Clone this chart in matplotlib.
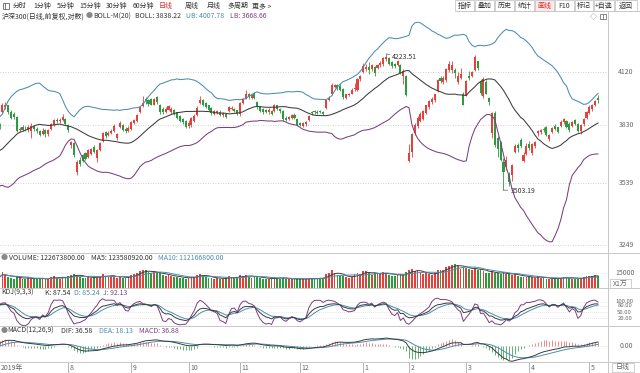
import numpy as np
import pandas as pd
import matplotlib
matplotlib.use("Agg")
import matplotlib.pyplot as plt
from matplotlib.patches import Rectangle

plt.rcParams['font.family'] = ['Noto Sans CJK SC', 'DejaVu Sans']

# ---------------- data (CSI 300 daily, 2019-06-28 .. 2020-05-11) ----------------
# closes before the first visible candle, only used to warm up the indicators
warmup_close = [4060, 4040, 4050, 3960, 3903, 3890, 3913,
                3690, 3720, 3670, 3600, 3730, 3710, 3700, 3770, 3785, 3690,
                3660, 3700, 3680, 3630, 3640, 3660, 3680, 3675, 3640, 3630,
                3630, 3598, 3597, 3564, 3600, 3712, 3686, 3690, 3664,
                3662, 3689, 3739, 3833, 3825, 3826, 3786, 3781, 3814]

open_ = [3830, 3900, 3925, 3935, 3900, 3890, 3872, 3805, 3818, 3812,
         3805, 3800, 3825, 3810, 3798, 3785, 3805, 3785, 3810, 3832,
         3855, 3850, 3858, 3865, 3830, 3728, 3735, 3590, 3650, 3675,
         3685, 3664, 3680, 3718, 3660, 3700, 3745, 3795, 3780, 3790,
         3800, 3765, 3820, 3830, 3810, 3800, 3808, 3840, 3850, 3900,
         3930, 3970, 3962, 3970, 3940, 3980, 3940, 3918, 3902, 3912,
         3900, 3912, 3898, 3880, 3862, 3850, 3825, 3830, 3850, 3885,
         3948, 3962, 3948, 3935, 3920, 3890, 3895, 3902, 3882, 3890,
         3905, 3915, 3915, 3908, 3890, 3950, 3975, 4000, 3975, 3998,
         3955, 3925, 3915, 3912, 3898, 3905, 3905, 3935, 3915, 3905,
         3870, 3860, 3870, 3885, 3860, 3842, 3825, 3835, 3855, 3900,
         3905, 3902, 3905, 3900, 3920, 3962, 3995, 4035, 4045, 4040,
         4025, 3975, 3992, 3998, 4025, 4020, 4080, 4120, 4135, 4150,
         4135, 4150, 4140, 4158, 4165, 4192, 4200, 4175, 4165, 4160,
         4160, 4100, 4100, 3648, 3690, 3790, 3825, 3850, 3862, 3895,
         3925, 3955, 3965, 4015, 4085, 4062, 4075, 4130, 4130, 4130,
         4065, 4085, 4000, 3990, 4100, 4095, 4130, 4180, 4065, 3985,
         4065, 3975, 3790, 3895, 3765, 3735, 3640, 3615, 3580, 3575,
         3690, 3728, 3755, 3648, 3682, 3730, 3685, 3720, 3790, 3795,
         3812, 3820, 3760, 3795, 3828, 3818, 3825, 3845, 3850, 3838,
         3825, 3855, 3838, 3800, 3835, 3870, 3895, 3915, 3935, 3978]

high_ = [3842, 3950, 3955, 3940, 3910, 3898, 3880, 3822, 3830, 3825,
         3830, 3840, 3832, 3818, 3805, 3815, 3812, 3810, 3842, 3862,
         3866, 3868, 3888, 3868, 3838, 3750, 3740, 3652, 3664, 3680,
         3690, 3705, 3712, 3725, 3705, 3742, 3795, 3800, 3798, 3810,
         3835, 3790, 3850, 3838, 3818, 3825, 3850, 3862, 3888, 3932,
         3985, 3980, 3968, 3975, 3978, 3985, 3945, 3925, 3925, 3940,
         3928, 3918, 3902, 3885, 3868, 3856, 3855, 3875, 3888, 3930,
         3985, 3968, 3955, 3940, 3925, 3912, 3912, 3908, 3900, 3896,
         3930, 3930, 3920, 3912, 3955, 3975, 4020, 4005, 3998, 4010,
         3958, 3930, 3920, 3918, 3920, 3912, 3945, 3940, 3920, 3910,
         3878, 3880, 3888, 3892, 3862, 3848, 3845, 3850, 3885, 3905,
         3910, 3908, 3910, 3905, 3968, 3985, 4060, 4055, 4052, 4050,
         4030, 4000, 4005, 4028, 4060, 4085, 4105, 4172, 4165, 4175,
         4165, 4155, 4165, 4180, 4205, 4223.51, 4205, 4182, 4172, 4190,
         4165, 4135, 4105, 3730, 3790, 3840, 3880, 3898, 3910, 3940,
         3965, 3980, 4000, 4080, 4095, 4095, 4140, 4180, 4185, 4140,
         4120, 4140, 4010, 4075, 4125, 4125, 4215, 4185, 4080, 4090,
         4075, 3980, 3900, 3905, 3775, 3745, 3660, 3670, 3590, 3630,
         3730, 3735, 3765, 3690, 3735, 3745, 3735, 3748, 3805, 3812,
         3818, 3825, 3785, 3820, 3835, 3822, 3855, 3868, 3855, 3845,
         3850, 3862, 3842, 3835, 3870, 3905, 3935, 3945, 3965, 3990]

low_ = [3812, 3895, 3915, 3890, 3865, 3860, 3795, 3795, 3800, 3800,
        3795, 3765, 3800, 3790, 3775, 3780, 3770, 3772, 3805, 3828,
        3842, 3840, 3852, 3832, 3796, 3712, 3668, 3575, 3619, 3640,
        3650, 3660, 3675, 3685, 3640, 3695, 3740, 3765, 3772, 3782,
        3795, 3755, 3815, 3798, 3790, 3795, 3805, 3835, 3846, 3895,
        3925, 3945, 3930, 3935, 3935, 3945, 3890, 3890, 3895, 3908,
        3890, 3882, 3862, 3845, 3838, 3814, 3815, 3822, 3845, 3880,
        3945, 3932, 3920, 3905, 3885, 3882, 3888, 3880, 3875, 3868,
        3900, 3910, 3900, 3885, 3880, 3945, 3970, 3972, 3968, 3970,
        3918, 3900, 3890, 3895, 3890, 3882, 3900, 3908, 3895, 3852,
        3850, 3855, 3865, 3862, 3825, 3825, 3818, 3828, 3850, 3885,
        3890, 3888, 3892, 3882, 3915, 3958, 3990, 4028, 4020, 4015,
        3972, 3968, 3985, 3995, 4015, 4015, 4070, 4115, 4125, 4110,
        4125, 4100, 4135, 4150, 4155, 4180, 4158, 4145, 4145, 4155,
        4108, 4050, 3985, 3640, 3665, 3780, 3815, 3845, 3855, 3890,
        3918, 3945, 3955, 4010, 4060, 4055, 4065, 4120, 4115, 4085,
        4055, 4080, 3935, 3985, 4075, 4090, 4125, 4130, 3990, 3975,
        3995, 3940, 3765, 3715, 3665, 3645, 3503.19, 3600, 3525, 3545,
        3685, 3690, 3712, 3640, 3675, 3700, 3675, 3710, 3775, 3785,
        3795, 3775, 3745, 3790, 3802, 3788, 3818, 3838, 3815, 3795,
        3818, 3830, 3795, 3785, 3828, 3865, 3890, 3905, 3930, 3950]

close_ = [3825, 3937, 3940, 3900, 3870, 3872, 3800, 3812, 3805, 3808,
          3818, 3825, 3810, 3800, 3780, 3800, 3782, 3805, 3835, 3858,
          3850, 3858, 3872, 3838, 3805, 3742, 3675, 3640, 3630, 3645,
          3655, 3700, 3708, 3690, 3700, 3735, 3790, 3775, 3788, 3800,
          3825, 3782, 3842, 3805, 3798, 3815, 3845, 3855, 3882, 3925,
          3948, 3958, 3945, 3940, 3972, 3952, 3900, 3898, 3915, 3932,
          3915, 3888, 3870, 3850, 3845, 3818, 3843, 3870, 3880, 3920,
          3965, 3940, 3925, 3912, 3895, 3905, 3905, 3885, 3895, 3875,
          3925, 3922, 3905, 3890, 3950, 3968, 4000, 3980, 3990, 3978,
          3925, 3905, 3898, 3902, 3912, 3888, 3940, 3915, 3905, 3860,
          3858, 3875, 3882, 3868, 3830, 3832, 3840, 3845, 3878, 3892,
          3898, 3895, 3898, 3888, 3962, 3978, 4045, 4045, 4030, 4022,
          3980, 3995, 3998, 4022, 4028, 4080, 4098, 4152, 4150, 4130,
          4160, 4112, 4160, 4170, 4200, 4206, 4165, 4152, 4155, 4182,
          4115, 4128, 3990, 3688, 3785, 3830, 3870, 3890, 3905, 3935,
          3960, 3972, 3995, 4075, 4068, 4088, 4135, 4165, 4160, 4112,
          4095, 4110, 3940, 4070, 4085, 4120, 4206, 4140, 4005, 4082,
          4000, 3952, 3895, 3727, 3705, 3650, 3590, 3653, 3540, 3625,
          3722, 3710, 3720, 3678, 3720, 3712, 3730, 3740, 3800, 3805,
          3802, 3780, 3778, 3815, 3810, 3795, 3845, 3862, 3822, 3805,
          3845, 3835, 3800, 3830, 3865, 3900, 3925, 3940, 3958, 3962]

# volume in units of 10,000 shares (x1万)
volume_wan = [11000,
              16000, 13000, 11000, 10000, 9500, 12500, 10000, 9000, 9000, 10500,
              9500, 9000, 8800, 9500, 10000, 8800, 9000, 11000, 12000, 10500,
              9500, 10500, 11000,
              12000, 13500, 14500, 13000, 11000, 10500, 10000, 12000, 10500, 11000,
              10000, 11500, 14500, 12500, 11500, 12000, 11500, 10500, 11500, 10500,
              10000, 11000,
              13500, 14500, 15500, 17000, 19000, 18000, 16500, 15000, 16000, 16000,
              15500, 13000, 12500, 13000, 12000, 11500, 11000, 10500, 10000, 9500,
              10500, 11000, 11500, 13500, 14500, 12500, 11000, 10000, 10500, 9500,
              10000, 9500, 9000, 10000, 12000, 11000, 10000, 10000,
              13000, 12500, 13500, 11500, 10500, 11000, 12500, 10000, 9500, 9000,
              9000, 9500, 11000, 10500, 9500, 10000, 9500, 9000, 8500, 8500, 9500,
              9500, 9000, 8500, 9500, 10000, 9500, 9500, 10000, 10000, 14000,
              15000, 18500, 15000, 13000, 12500, 12000, 11000, 10000, 11500, 14000,
              15500, 14500,
              17000, 17500, 15000, 13500, 15000, 14500, 14000, 16000, 15500, 13500,
              12500, 12000, 13500, 14500, 13000, 16500,
              18500, 20000, 17000, 17500, 15500, 14500, 15000, 14000, 13500, 15000,
              18500, 19000, 18500, 21500, 23000, 24000, 25000, 22500, 20000, 21500,
              21000, 20000, 18000, 21000, 18000, 19500, 17500, 15500, 15000, 17000,
              15500, 15000, 14000, 16000, 14500, 14000, 13000, 14500, 12500, 11500,
              11000, 11000,
              11500, 11000, 10000, 12000, 10500, 10000, 9500, 8500, 9500, 10500,
              9000, 10500, 11000, 10500, 10000, 9500, 9000, 9000, 10000, 11500,
              12500,
              11800, 12200, 12823, 12267]

month_labels = ['8', '9', '10', '11', '12', '1', '2', '3', '4', '5']
month_start_idx = [24, 46, 66, 84, 105, 127, 143, 163, 185, 206]
year_label = '2019年'
price_ticks = [3249, 3539, 3830, 4120]
kdj_ticks = [100, 80, 50, 20]
vol_tick = 15000

main_title = '沪深300(日线,前复权,对数)'
boll_texts = ['BOLL-M(20)', 'BOLL: 3838.22', 'UB: 4007.78', 'LB: 3668.66']
vol_texts = ['VOLUME: 122673800.00', 'MA5: 123580920.00', 'MA10: 112166800.00']
kdj_texts = ['KDJ(9,3,3)', 'K: 87.54', 'D: 85.24', 'J: 92.13']
macd_texts = ['MACD(12,26,9)', 'DIF: 36.58', 'DEA: 18.13', 'MACD: 36.88']
toolbar_left = ['分时', '1分钟', '5分钟', '15分钟', '30分钟', '60分钟', '日线', '周线', '月线', '多周期', '更多 >']
toolbar_right = ['指标', '叠加', '历史', '统计', '画线', 'F10', '标记', '+自选', '返回']

# ---------------- indicators ----------------
nw = len(warmup_close)
c_all = pd.Series(list(warmup_close) + list(close_), dtype=float)
h_all = pd.Series(list(warmup_close) + list(high_), dtype=float)
l_all = pd.Series(list(warmup_close) + list(low_), dtype=float)

mid = c_all.rolling(20, min_periods=1).mean()
dev = np.sqrt(((c_all - mid) ** 2).rolling(20, min_periods=1).mean())
boll_mid = mid.shift(1).bfill()
boll_ub = (mid + 2 * dev).shift(1).bfill()
boll_lb = (mid - 2 * dev).shift(1).bfill()

llv = l_all.rolling(9, min_periods=1).min()
hhv = h_all.rolling(9, min_periods=1).max()
rsv = ((c_all - llv) / (hhv - llv).replace(0, np.nan) * 100).fillna(50).values
K = np.zeros(len(rsv)); D = np.zeros(len(rsv))
k = d = 50.0
for t, r in enumerate(rsv):
    k = (2 * k + r) / 3.0
    d = (2 * d + k) / 3.0
    K[t] = k; D[t] = d
J = 3 * K - 2 * D

ema12 = c_all.ewm(span=12, adjust=False).mean()
ema26 = c_all.ewm(span=26, adjust=False).mean()
dif = ema12 - ema26
dea = dif.ewm(span=9, adjust=False).mean()
macd = 2 * (dif - dea)

sl = slice(nw, None)
boll_mid = boll_mid.values[sl]; boll_ub = boll_ub.values[sl]; boll_lb = boll_lb.values[sl]
K = K[sl]; D = D[sl]; J = J[sl]
dif = dif.values[sl]; dea = dea.values[sl]; macd = macd.values[sl]

vol = pd.Series(volume_wan, dtype=float)
vma5 = vol.rolling(5, min_periods=1).mean().values
vma10 = vol.rolling(10, min_periods=1).mean().values

o = np.array(open_, float); h = np.array(high_, float)
l = np.array(low_, float); c = np.array(close_, float)
N = len(c)
x = np.arange(N)
up = c >= o

RED = '#e5413c'
GREEN = '#2c9a3e'
UBC = '#4a8db0'
LBC = '#7b3f80'
MIDC = '#3c3c3c'
TXT = '#333333'
GRAY = '#666666'
cols = np.where(up, RED, GREEN)

# ---------------- figure ----------------
W, H = 640, 373
fig = plt.figure(figsize=(6.4, 3.73), dpi=100)
fig.patch.set_facecolor('white')


def add_ax(x0, y0, x1, y1):
    a = fig.add_axes([x0 / W, 1 - y1 / H, (x1 - x0) / W, (y1 - y0) / H])
    a.set_axis_off()
    return a


XL = ((0 + 0.4) / 2.863, (608 + 0.4) / 2.863)
FS = 5.0

# main price panel (log scale)
ax = add_ax(0, 12, 608, 253)
ax.set_yscale('log')
for p in price_ticks:
    ax.axhline(p, color='#c4c4c4', lw=0.6, ls=(0, (1, 2)), zorder=0)
ax.vlines(x, l, h, colors=cols, lw=0.6, zorder=2)
ax.bar(x, np.maximum(np.abs(c - o), 1.2), bottom=np.minimum(o, c), width=0.72,
       color=cols, linewidth=0, zorder=3)
ax.plot(x, boll_ub, color=UBC, lw=0.75, zorder=4)
ax.plot(x, boll_mid, color=MIDC, lw=0.75, zorder=4)
ax.plot(x, boll_lb, color=LBC, lw=0.75, zorder=4)
ax.set_xlim(*XL)
ax.set_ylim(3213.2, 4120 * np.exp(60 / 728))

imax = int(np.argmax(h)); imin = int(np.argmin(l))
ax.annotate(f'{h[imax]:.2f}', xy=(imax, h[imax]), xytext=(4.5, -2.0),
            textcoords='offset points', ha='left', va='center', fontsize=FS,
            color=TXT, arrowprops=dict(arrowstyle='-', color='#555555', lw=0.5,
                                       shrinkA=0, shrinkB=0), zorder=6)
ax.annotate(f'{l[imin]:.2f}', xy=(imin, l[imin]), xytext=(5.0, -0.5),
            textcoords='offset points', ha='left', va='center', fontsize=FS,
            color=TXT, arrowprops=dict(arrowstyle='-', color='#555555', lw=0.5,
                                       shrinkA=0, shrinkB=0), zorder=6)
for p in price_ticks:
    ax.annotate(str(p), xy=(1, p), xycoords=('axes fraction', 'data'),
                xytext=(13, 0), textcoords='offset points', ha='center',
                va='center', fontsize=FS, color=GRAY, annotation_clip=False)

# volume panel
axv = add_ax(0, 253, 608, 288)
axv.axhline(vol_tick, color='#d0d0d0', lw=0.5, ls=(0, (1, 2)), zorder=0)
axv.bar(x, volume_wan, width=0.62, color=cols, linewidth=0, zorder=2)
axv.plot(x, vma5, color=MIDC, lw=0.7, zorder=3)
axv.plot(x, vma10, color=UBC, lw=0.7, zorder=3)
axv.set_xlim(*XL)
axv.set_ylim(-528, 36432)
axv.annotate(str(vol_tick), xy=(1, vol_tick), xycoords=('axes fraction', 'data'),
             xytext=(12, 0), textcoords='offset points', ha='center', va='center',
             fontsize=FS, color=GRAY, annotation_clip=False)

# KDJ panel
axk = add_ax(0, 288, 608, 326)
for t in kdj_ticks:
    axk.axhline(t, color='#d0d0d0', lw=0.5, ls=(0, (1, 2)), zorder=0)
axk.plot(x, J, color=LBC, lw=0.7, zorder=2)
axk.plot(x, D, color=UBC, lw=0.7, zorder=3)
axk.plot(x, K, color=MIDC, lw=0.7, zorder=4)
axk.set_xlim(*XL)
axk.set_ylim(-17.1, 166.0)
for t in kdj_ticks:
    axk.annotate(f'{t:.2f}', xy=(1, t), xycoords=('axes fraction', 'data'),
                 xytext=(12, 0), textcoords='offset points', ha='center',
                 va='center', fontsize=4.3, color=GRAY, annotation_clip=False)

# MACD panel
axm = add_ax(0, 326, 608, 362)
vals = np.concatenate([dif, dea, macd])
u = max(-vals.min() / 15.0, vals.max() / 17.0)
axm.axhline(0, color='#d0d0d0', lw=0.5, ls=(0, (1, 2)), zorder=0)
axm.vlines(x, 0, macd, colors=np.where(macd >= 0, '#e07a78', '#4aa55a'), lw=0.6, zorder=2)
axm.plot(x, dea, color=UBC, lw=0.7, zorder=3)
axm.plot(x, dif, color=MIDC, lw=0.7, zorder=4)
axm.set_xlim(*XL)
axm.set_ylim(-(362 - 346.3) * u, (346.3 - 326) * u)
axm.annotate('0.00', xy=(1, 0), xycoords=('axes fraction', 'data'),
             xytext=(13, 0), textcoords='offset points', ha='center', va='center',
             fontsize=FS, color=GRAY, annotation_clip=False)

# date strip
axb = add_ax(0, 362, 608, 373)
axb.set_xlim(*XL)
axb.set_ylim(0, 1)
axb.vlines(month_start_idx, 0, 1, colors='#aaaaaa', lw=0.6)
for idx, lab in zip(month_start_idx, month_labels):
    axb.annotate(lab, xy=(idx, 0.45), xytext=(1.2, 0), textcoords='offset points',
                 ha='left', va='center', fontsize=FS, color=GRAY)
axb.annotate(year_label, xy=(XL[0], 0.45), xytext=(0.6, 0), textcoords='offset points',
             ha='left', va='center', fontsize=FS, color=GRAY)

# overlay in pixel coordinates for frame, headers and toolbar
ov = fig.add_axes([0, 0, 1, 1])
ov.set_xlim(0, W); ov.set_ylim(H, 0)
ov.set_axis_off()
ov.patch.set_visible(False)
ov.set_zorder(10)

LC = '#c8c8c8'
for yy in [253, 288, 326, 362]:
    ov.plot([0, W], [yy, yy], color=LC, lw=0.7)
ov.plot([608, 608], [11, H], color=LC, lw=0.7)
ov.plot([456, W], [11, 11], color=LC, lw=0.7)


def seg(xx, yy, s, color=TXT, size=FS, ha='left'):
    ov.text(xx, yy, s, color=color, fontsize=size, ha=ha, va='center')


# toolbar left
ov.add_patch(Rectangle((2.5, 2.5), 6, 6, fill=False, ec='#666666', lw=0.6))
ov.plot([5.2, 5.2], [2.5, 8.5], color='#666666', lw=0.6)
tl_x = [12.5, 33, 57, 79, 106, 133, 159, 185, 207, 227, 252]
for xx, s in zip(tl_x, toolbar_left):
    seg(xx, 5.8, s, color=('#d42a2a' if s == '日线' else TXT))

# toolbar right (buttons)
bounds = [455, 475, 495, 515, 535, 555, 575, 594, 615, 638]
for i, s in enumerate(toolbar_right):
    ov.add_patch(Rectangle((bounds[i], 0), bounds[i + 1] - bounds[i] - 1, 11,
                           fill=(s == '画线'), fc='#fbeaea', ec=LC, lw=0.6))
    seg((bounds[i] + bounds[i + 1] - 1) / 2, 5.8, s, ha='center',
        color=('#d42a2a' if s == '画线' else TXT))

# main header
seg(2, 16.3, main_title)
seg(86, 16.3, '●', color='#888888')
seg(93, 16.3, boll_texts[0])
seg(135, 16.3, boll_texts[1])
seg(186, 16.3, boll_texts[2], color=UBC)
seg(230, 16.3, boll_texts[3], color=LBC)
seg(593, 16.3, '◇', color='#777777', ha='center')
ov.add_patch(Rectangle((600, 13.5), 6, 5.5, fill=False, ec='#777777', lw=0.6))
ov.plot([602.5, 602.5], [13.5, 19], color='#777777', lw=0.6)

# volume header
seg(1, 258, '●', color='#888888')
seg(9, 258, vol_texts[0])
seg(91, 258, vol_texts[1])
seg(158, 258, vol_texts[2], color=UBC)
ov.add_patch(Rectangle((610, 279), 21, 9, fill=False, ec=LC, lw=0.6))
seg(620.5, 283.5, 'X1万', color=GRAY, ha='center')

# KDJ header
seg(1, 292.7, kdj_texts[0])
seg(45, 292.7, kdj_texts[1])
seg(74, 292.7, kdj_texts[2], color=UBC)
seg(103, 292.7, kdj_texts[3], color=LBC)

# MACD header
seg(1, 330.7, '●', color='#888888')
seg(7, 330.7, macd_texts[0])
seg(61, 330.7, macd_texts[1])
seg(99, 330.7, macd_texts[2], color=UBC)
seg(139, 330.7, macd_texts[3], color=LBC)

# bottom-right period box
ov.add_patch(Rectangle((612, 363), 22, 9, fill=False, ec=LC, lw=0.6))
seg(623, 367.5, '日线', color=GRAY, ha='center')

fig.savefig('out.png', dpi=100, facecolor='white')
